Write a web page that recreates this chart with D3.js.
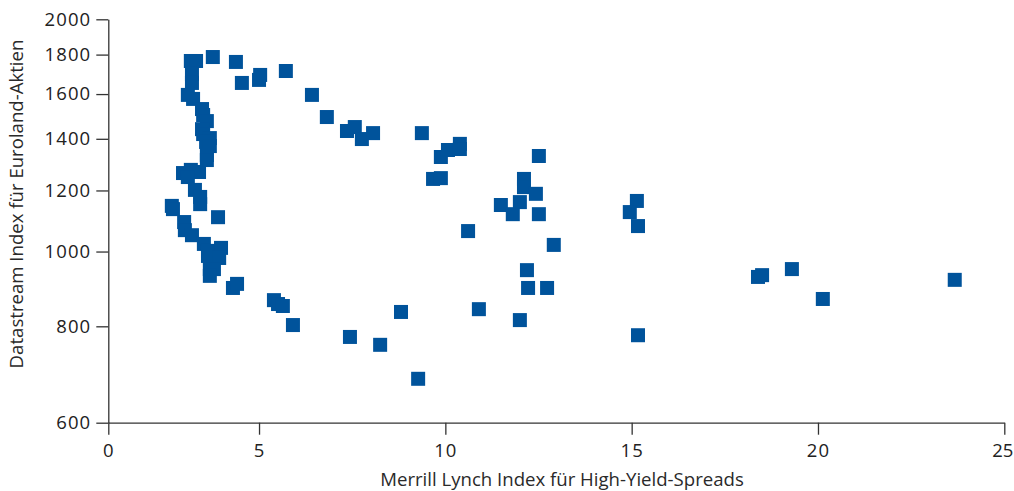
<!DOCTYPE html>
<html lang="de">
<head>
<meta charset="utf-8">
<title>High-Yield-Spreads und Euroland-Aktien</title>
<script src="https://cdn.jsdelivr.net/npm/d3@7"></script>
<style>
  html, body { margin: 0; padding: 0; background: #fff; }
  svg { display: block; }
  .tick text { font-family: "Open Sans", "DejaVu Sans", sans-serif; font-size: 18.5px; fill: #222; letter-spacing: 1.1px; }
  .axis-title { font-family: "Open Sans", "DejaVu Sans", sans-serif; font-size: 18.6px; fill: #2a2a2a; }
</style>
</head>
<body>
<svg id="chart" width="1014" height="491"></svg>
<script>
// Merrill Lynch High-Yield-Spread (x) vs. Datastream Euroland-Aktien index (y)
const spread = [
  3.17, 3.31, 3.76, 4.38, 4.54, 5.03, 5.00, 5.72, 3.20, 3.20,
  3.09, 3.23, 3.47, 3.50, 3.60, 3.47, 3.50, 3.68, 3.58, 3.68,
  3.60, 3.60, 3.17, 3.39, 2.96, 3.09, 3.28, 3.42, 3.42, 3.90,
  2.66, 2.69, 2.99, 3.01, 3.20, 3.52, 3.98, 3.63, 3.63, 3.93,
  3.68, 3.79, 3.68, 4.30, 4.41, 5.40, 5.51, 5.64, 5.91,
  6.42, 6.82, 7.36, 7.57, 7.76, 8.06, 9.37, 9.88, 10.07, 10.39,
  10.39, 9.67, 9.88, 12.51, 12.11, 12.11, 12.43, 11.49, 12.00, 11.81,
  12.51, 10.61, 12.91, 15.14, 14.95, 15.17, 7.44, 8.25, 8.81, 9.27,
  10.90, 12.00, 12.19, 12.22, 12.73, 15.17, 18.39, 18.50, 19.30, 20.13,
  23.67
];
const euroland = [
  1766, 1766, 1787, 1761, 1654, 1694, 1669, 1714, 1699, 1654,
  1596, 1577, 1530, 1503, 1476, 1441, 1420, 1403, 1387, 1370,
  1334, 1314, 1276, 1268, 1264, 1249, 1202, 1177, 1152, 1108,
  1146, 1135, 1092, 1066, 1050, 1023, 1011, 1002, 987, 981,
  949, 949, 930, 897, 908, 865, 855, 850, 803,
  1596, 1494, 1433, 1450, 1399, 1424, 1424, 1326, 1354, 1379,
  1358, 1242, 1245, 1330, 1242, 1212, 1188, 1149, 1159, 1118,
  1118, 1063, 1020, 1163, 1125, 1079, 775, 757, 835, 684,
  842, 815, 946, 897, 897, 779, 927, 932, 949, 868,
  919
];

// Axis ticks; the x axis starts a little right of zero but is labelled "0"
const xStart = 0.955;
const xTicks = [xStart, 5, 10, 15, 20, 25];
const yTicks = [600, 800, 1000, 1200, 1400, 1600, 1800, 2000];

const points = spread.map((s, i) => ({ x: s, y: euroland[i] }));

const svg = d3.select("#chart");
const plot = { left: 108.3, right: 1004.3, top: 19.3, bottom: 422.7 };

const x = d3.scaleLinear().domain([xStart, 25]).range([plot.left, plot.right]);
const y = d3.scaleLog().domain([600, 2000]).range([plot.bottom, plot.top]);

const axisColor = "#333";

// y axis
const gy = svg.append("g")
  .attr("transform", `translate(${plot.left},0)`)
  .call(d3.axisLeft(y)
    .tickValues(yTicks)
    .tickFormat(d3.format("d"))
    .tickSize(12)
    .tickSizeOuter(0)
    .tickPadding(5));

// x axis
const gx = svg.append("g")
  .attr("transform", `translate(0,${plot.bottom})`)
  .call(d3.axisBottom(x)
    .tickValues(xTicks)
    .tickFormat(d => d === xStart ? "0" : d3.format("d")(d))
    .tickSize(12)
    .tickSizeOuter(0)
    .tickPadding(7));

svg.selectAll(".domain, .tick line")
  .attr("stroke", axisColor)
  .attr("stroke-width", 1.3);

gx.selectAll(".tick text").attr("dy", "0.85em");

// keep the last x label inside the right edge
gx.selectAll(".tick text")
  .filter(d => d === 25)
  .style("letter-spacing", "0px")
  .attr("dx", "-2");

// points
const size = 14;
svg.append("g")
  .selectAll("rect")
  .data(points)
  .join("rect")
  .attr("x", d => x(d.x) - size / 2)
  .attr("y", d => y(d.y) - size / 2)
  .attr("width", size)
  .attr("height", size)
  .attr("fill", "#00539b");

// axis titles
svg.append("text")
  .attr("class", "axis-title")
  .attr("x", 562)
  .attr("y", 486)
  .attr("text-anchor", "middle")
  .text("Merrill Lynch Index für High-Yield-Spreads");

svg.append("text")
  .attr("class", "axis-title")
  .attr("transform", "translate(23,204) rotate(-90)")
  .attr("text-anchor", "middle")
  .text("Datastream Index für Euroland-Aktien");
</script>
</body>
</html>
